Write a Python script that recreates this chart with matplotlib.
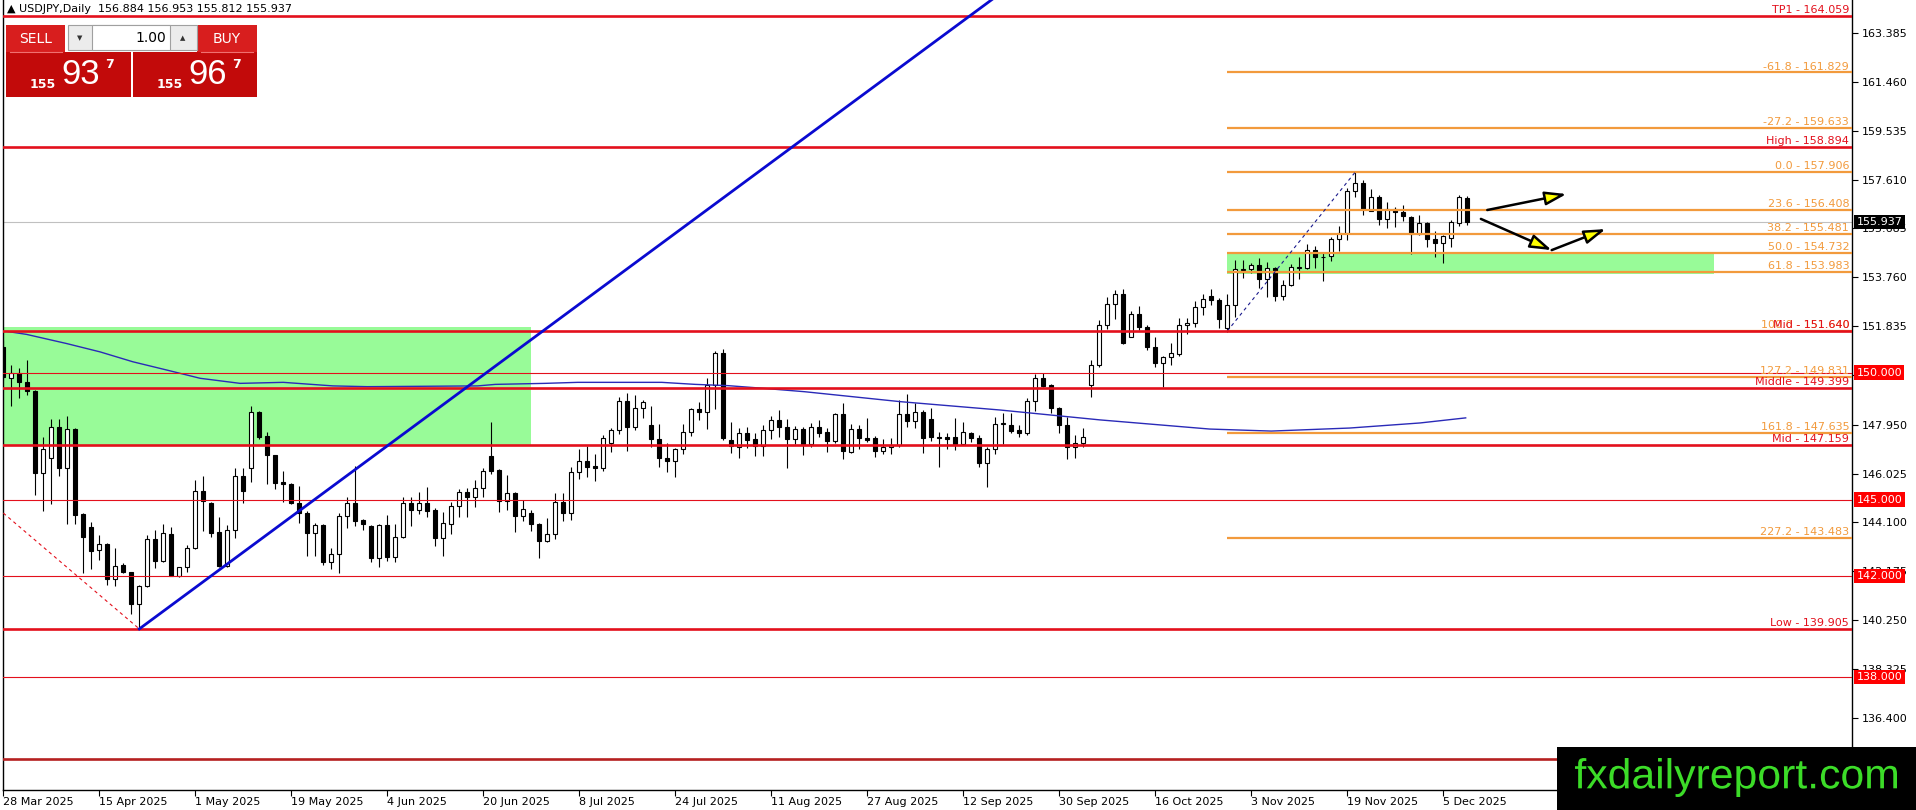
import matplotlib
matplotlib.use('Agg')
import matplotlib.pyplot as plt
from matplotlib.patches import Rectangle, PathPatch
from matplotlib import transforms
from matplotlib.textpath import TextPath
from matplotlib.font_manager import FontProperties

# USDJPY daily bars, bar 0 = 28 Mar 2025
opens = [151.03, 149.78, 149.99, 149.62, 149.29, 146.06, 146.63, 147.85, 146.26, 147.77,
         144.43, 143.91, 143.00, 143.24, 141.86, 142.42, 142.13, 140.87, 141.60, 143.44,
         142.60, 143.63, 142.00, 142.33, 143.08, 145.35, 144.88, 143.71, 142.40, 143.80,
         145.93, 146.23, 148.47, 147.51, 146.74, 145.68, 145.60, 144.85, 144.49, 143.67,
         143.99, 142.56, 142.85, 144.35, 144.85, 144.20, 143.96, 142.69, 143.99, 142.75,
         143.51, 144.88, 144.59, 144.85, 144.59, 143.47, 144.02, 144.75, 145.29, 145.12,
         145.44, 146.72, 146.17, 144.96, 145.25, 144.37, 144.46, 144.04, 143.38, 143.63,
         144.89, 144.46, 146.07, 146.53, 146.32, 146.23, 147.24, 147.74, 148.89, 147.87,
         148.60, 147.94, 147.38, 146.63, 146.52, 146.99, 147.68, 148.56, 148.47, 149.52,
         150.76, 147.35, 147.06, 147.61, 147.37, 147.11, 147.74, 148.14, 147.85, 147.38,
         147.77, 147.19, 147.87, 147.65, 147.32, 148.37, 146.89, 147.77, 147.41, 147.41,
         146.93, 147.06, 147.15, 148.36, 148.11, 148.46, 148.16, 147.48, 147.45, 147.45,
         147.19, 147.61, 147.41, 146.46, 146.98, 147.97, 147.94, 147.74, 147.64, 148.90,
         149.78, 149.52, 148.59, 147.94, 147.06, 147.24, 149.52, 150.30, 151.88, 152.69,
         153.09, 151.42, 152.30, 151.81, 151.03, 150.40, 150.63, 150.74, 151.89, 151.97,
         152.57, 153.04, 152.86, 151.75, 152.67, 154.05, 154.09, 154.24, 153.68, 154.11,
         153.04, 153.46, 154.11, 154.11, 154.83, 154.57, 154.61, 155.25, 155.49, 157.16,
         157.46, 156.38, 156.91, 156.04, 156.44, 156.35, 156.15, 155.47, 155.91, 155.27,
         155.10, 155.29, 155.91, 156.884]
highs = [151.29, 150.30, 150.17, 150.50, 149.30, 147.48, 148.18, 148.18, 148.29, 147.81,
         144.46, 144.13, 143.60, 143.28, 143.11, 142.50, 142.16, 141.64, 143.60, 143.80,
         144.04, 143.91, 142.36, 143.21, 145.77, 145.93, 144.92, 144.30, 144.00, 146.23,
         146.23, 148.69, 148.49, 147.68, 146.76, 146.11, 145.64, 145.54, 144.56, 144.09,
         144.04, 143.08, 144.46, 145.09, 146.32, 144.25, 144.00, 144.04, 144.39, 144.04,
         145.09, 145.09, 145.29, 145.51, 144.65, 144.50, 144.89, 145.41, 145.44, 145.77,
         146.26, 148.07, 146.19, 145.97, 145.30, 144.98, 144.59, 144.06, 144.26, 145.25,
         145.25, 146.27, 146.99, 147.11, 146.80, 147.55, 147.83, 149.06, 149.19, 149.12,
         148.92, 148.69, 147.97, 147.22, 147.02, 147.98, 148.60, 148.86, 149.78, 150.86,
         150.92, 148.07, 147.83, 147.85, 147.61, 147.94, 148.30, 148.53, 148.16, 147.90,
         147.87, 148.03, 148.13, 147.81, 148.42, 148.79, 147.98, 147.94, 148.20, 147.51,
         147.38, 147.41, 148.93, 149.16, 148.82, 148.53, 148.60, 147.68, 147.64, 148.20,
         148.07, 147.68, 147.55, 147.09, 148.27, 148.40, 148.40, 147.94, 149.02, 149.95,
         149.97, 149.56, 148.66, 148.27, 147.55, 147.81, 150.50, 152.08, 153.00, 153.26,
         153.29, 152.44, 152.63, 151.88, 151.42, 150.66, 151.16, 152.14, 152.14, 152.82,
         153.09, 153.28, 152.95, 153.10, 154.44, 154.44, 154.33, 154.51, 154.37, 154.18,
         153.65, 154.28, 154.55, 155.06, 155.00, 154.70, 155.33, 155.78, 157.26, 157.90,
         157.59, 157.22, 157.00, 156.74, 156.52, 156.61, 156.18, 156.21, 155.93, 155.60,
         155.42, 156.02, 157.00, 156.953]
lows = [149.71, 148.69, 148.99, 149.12, 145.20, 144.56, 144.83, 145.94, 144.03, 144.04,
        142.10, 142.25, 142.62, 141.64, 141.61, 142.12, 140.48, 139.92, 141.57, 142.29,
        142.56, 141.98, 141.97, 142.16, 143.05, 143.76, 143.51, 142.36, 142.36, 143.47,
        144.85, 145.71, 147.37, 145.60, 145.42, 144.92, 144.83, 144.09, 142.78, 142.78,
        142.42, 142.25, 142.12, 143.87, 143.96, 143.80, 142.56, 142.36, 142.60, 142.56,
        143.47, 143.96, 144.43, 144.33, 143.17, 142.78, 143.65, 144.30, 144.33, 144.72,
        145.12, 146.00, 144.53, 144.59, 143.74, 144.17, 143.78, 142.69, 143.32, 143.43,
        144.17, 144.20, 145.81, 145.90, 145.75, 146.14, 146.86, 147.58, 146.93, 147.74,
        148.20, 147.09, 146.30, 146.10, 145.88, 146.80, 147.51, 148.14, 147.77, 148.56,
        147.35, 146.85, 146.63, 147.02, 146.72, 146.73, 147.39, 147.45, 146.23, 147.19,
        146.76, 147.09, 147.48, 146.89, 147.24, 146.59, 146.82, 146.98, 147.28, 146.67,
        146.80, 146.80, 147.06, 147.87, 147.81, 146.82, 147.32, 146.30, 146.98, 146.95,
        147.15, 147.28, 146.27, 145.48, 146.80, 147.19, 147.64, 147.48, 147.55, 148.50,
        149.42, 148.40, 147.64, 146.59, 146.63, 147.09, 149.05, 150.24, 151.72, 152.10,
        151.13, 151.39, 151.68, 150.90, 150.21, 149.45, 150.30, 150.67, 151.52, 151.81,
        152.27, 152.67, 151.77, 151.62, 152.21, 153.72, 153.94, 153.32, 152.99, 152.84,
        152.86, 153.40, 153.68, 154.07, 154.14, 153.63, 154.41, 154.81, 155.23, 156.91,
        156.21, 156.37, 155.82, 155.69, 155.75, 155.99, 154.68, 155.43, 154.97, 154.55,
        154.34, 154.94, 155.78, 155.812]
closes = [149.84, 149.98, 149.62, 149.29, 146.06, 146.98, 147.85, 146.26, 147.77, 144.39,
          143.52, 142.99, 143.24, 141.86, 142.40, 142.16, 140.87, 141.60, 143.44, 142.60,
          143.67, 142.00, 142.33, 143.08, 145.35, 144.96, 143.67, 142.40, 143.80, 145.93,
          145.35, 148.47, 147.48, 146.74, 145.67, 145.60, 144.85, 144.49, 143.67, 143.99,
          142.56, 142.85, 144.35, 144.85, 144.17, 144.03, 142.69, 143.99, 142.75, 143.52,
          144.88, 144.59, 144.85, 144.56, 143.47, 144.09, 144.75, 145.29, 145.12, 145.44,
          146.13, 146.13, 144.96, 145.25, 144.37, 144.62, 144.02, 143.38, 143.63, 144.89,
          144.49, 146.07, 146.53, 146.30, 146.23, 147.41, 147.74, 148.89, 147.87, 148.60,
          148.86, 147.38, 146.63, 146.52, 146.99, 147.65, 148.56, 148.47, 149.52, 150.76,
          147.41, 147.11, 147.61, 147.35, 147.11, 147.74, 148.14, 147.85, 147.38, 147.77,
          147.19, 147.87, 147.64, 147.32, 148.37, 146.93, 147.77, 147.41, 147.35, 146.93,
          147.06, 147.15, 148.36, 148.11, 148.46, 147.41, 147.48, 147.41, 147.40, 147.19,
          147.65, 147.41, 146.46, 146.98, 147.97, 148.00, 147.71, 147.64, 148.90, 149.78,
          149.48, 148.59, 147.94, 147.06, 147.24, 147.48, 150.30, 151.88, 152.69, 153.09,
          151.18, 152.30, 151.79, 151.00, 150.40, 150.63, 150.76, 151.88, 151.97, 152.57,
          152.89, 152.86, 152.10, 152.67, 154.07, 154.07, 154.24, 153.68, 154.11, 153.04,
          153.46, 154.15, 154.18, 154.83, 154.54, 154.54, 155.25, 155.49, 157.16, 157.46,
          156.44, 156.91, 156.04, 156.44, 156.35, 156.17, 155.47, 155.91, 155.26, 155.10,
          155.39, 155.95, 156.91, 155.937]

date_labels = ['28 Mar 2025', '15 Apr 2025', '1 May 2025', '19 May 2025', '4 Jun 2025',
               '20 Jun 2025', '8 Jul 2025', '24 Jul 2025', '11 Aug 2025', '27 Aug 2025',
               '12 Sep 2025', '30 Sep 2025', '16 Oct 2025', '3 Nov 2025', '19 Nov 2025',
               '5 Dec 2025']
bars_per_label = 12

price_ticks = [163.385, 161.460, 159.535, 157.610, 155.685, 153.760, 151.835, 149.910,
               147.950, 146.025, 144.100, 142.175, 140.250, 138.325, 136.400]

# horizontal levels (red)
level_prices = [164.059, 158.894, 151.640, 150.000, 149.399, 147.159, 145.000, 142.000,
                139.905, 138.000, 134.760]
level_names = ['TP1', 'High', 'Mid', '', 'Middle', 'Mid', '', '', 'Low', '', '']
level_thick = [True, True, True, False, True, True, False, False, True, False, True]
level_boxed = [150.000, 145.000, 142.000, 138.000]

# fibonacci from the Oct low to the Nov high
fib_pct = ['-61.8', '-27.2', '0.0', '23.6', '38.2', '50.0', '61.8', '100.0', '127.2', '161.8', '227.2']
fib_price = [161.829, 159.633, 157.906, 156.408, 155.481, 154.732, 153.983, 151.640, 149.831,
             147.635, 143.483]
fib_start = 153
fib_swing_bars = [153, 169]
fib_swing_prices = [151.640, 157.906]

# moving average
ma_bars = [0.6, 2.9, 7.9, 12.1, 16.2, 20.5, 24.6, 29.6, 35.0, 41.2, 45.5, 59.3, 61.5, 67.7,
           71.8, 82.3, 86.5, 90.6, 94.8, 100.2, 112.1, 124.6, 137.1, 150.8, 158.5, 168.3,
           177.1, 182.8]
ma_vals = [151.62, 151.51, 151.15, 150.82, 150.43, 150.10, 149.78, 149.58, 149.62, 149.48,
           149.45, 149.48, 149.54, 149.58, 149.62, 149.62, 149.54, 149.49, 149.39, 149.25,
           148.86, 148.53, 148.14, 147.78, 147.70, 147.82, 148.02, 148.22]

# drawn objects
trend_bars = [17, 124]
trend_prices = [139.905, 164.80]
red_dash_bars = [0, 17]
red_dash_prices = [144.47, 139.905]
zones = [(-1, 66, 147.159, 151.79), (153, 213.8, 153.90, 154.73)]
arrows = [((185.5, 156.41), (195.4, 157.04)),
          ((184.7, 156.06), (193.55, 154.83)),
          ((193.55, 154.83), (200.3, 155.66))]
spread = 0.030

RED = '#e3101c'
ORANGE = '#f29a3c'

W, H = 1916, 810
fig = plt.figure(figsize=(W / 100, H / 100), dpi=100)
ax = fig.add_axes([2.7 / W, 20 / H, (1852 - 2.7) / W, 790 / H])
ax.set_xlim(-0.075, 231.09)
ax.set_ylim(133.558, 164.685)

idx = list(range(len(closes)))

# zones
for x0, x1, p0, p1 in zones:
    ax.add_patch(Rectangle((x0, p0), x1 - x0, p1 - p0, fc='#98fb98', ec='none', zorder=0.5))

# moving average
ax.plot(ma_bars, ma_vals, color='#2a2ab8', lw=1, zorder=3.5)

# candles
ax.vlines(idx, lows, highs, color='black', lw=0.8, zorder=3)
body_lo = [min(o, c) for o, c in zip(opens, closes)]
body_h = [abs(c - o) for o, c in zip(opens, closes)]
body_col = ['white' if c >= o else 'black' for o, c in zip(opens, closes)]
ax.bar(idx, body_h, bottom=body_lo, width=0.55, color=body_col, edgecolor='black',
       linewidth=0.8, zorder=3.2)

# current price line
ax.axhline(closes[-1], color='#c0c0c0', lw=0.8, zorder=2)

# fib lines
for pct, pr in zip(fib_pct, fib_price):
    ax.hlines(pr, fib_start, 231.09, color=ORANGE, lw=1.6, zorder=4)
ax.plot(fib_swing_bars, fib_swing_prices, color='#1a1a8c', lw=0.8, ls=(0, (3, 3)), zorder=4)

# red levels
for pr, thick in zip(level_prices, level_thick):
    col = '#b52020' if pr < 136 else RED
    ax.axhline(pr, color=col, lw=1.9 if thick else 0.8, zorder=4.2)

# trend lines
ax.plot(trend_bars, trend_prices, color='#0a0ad0', lw=2, zorder=4.5)
ax.plot(red_dash_bars, red_dash_prices, color=RED, lw=0.8, ls=(0, (3, 3)), zorder=4)

# arrows
for (x0, y0), (x1, y1) in arrows:
    ax.annotate('', xy=(x1, y1), xytext=(x0, y0), zorder=5,
                arrowprops=dict(arrowstyle='-|>,head_length=1.0,head_width=0.32',
                                fc='#ffff00', ec='black', lw=1.8, mutation_scale=13,
                                shrinkA=0, shrinkB=0))

# level labels on the right
lab = transforms.blended_transform_factory(ax.transAxes, ax.transData)
for pct, pr in zip(fib_pct, fib_price):
    ax.text(0.9985, pr + 0.03, f'{pct} - {pr:.3f}', transform=lab, ha='right', va='bottom',
            fontsize=8, color=ORANGE, zorder=6)
for name, pr in zip(level_names, level_prices):
    if name:
        ax.text(0.9985, pr + 0.03, f'{name} - {pr:.3f}', transform=lab, ha='right',
                va='bottom', fontsize=8, color=RED, zorder=6)

# axis styling
ax.spines['top'].set_visible(False)
for s in ['left', 'right', 'bottom']:
    ax.spines[s].set_linewidth(1)
ax.yaxis.tick_right()
ax.set_yticks(price_ticks)
# the 149.910 label sits under the 150.000 box
ax.set_yticklabels(['' if p in (149.910,) else f'{p:.3f}' for p in price_ticks])
ax.tick_params(axis='y', direction='out', length=4, labelsize=8, pad=3)
ax.set_xticks([k * bars_per_label for k in range(len(date_labels))])
ax.set_xticklabels(date_labels)
ax.tick_params(axis='x', direction='out', length=4, labelsize=8, pad=1)
plt.setp(ax.get_xticklabels(), ha='left')

# boxed prices on the axis
for pr in level_boxed:
    ax.text(1.0025, pr, f'{pr:.3f}', transform=lab, ha='left', va='center', fontsize=8,
            color='white', zorder=7, clip_on=False,
            bbox=dict(boxstyle='square,pad=0.2', fc='#ff0000', ec='none'))
ax.text(1.0025, closes[-1], f'{closes[-1]:.3f}', transform=lab, ha='left', va='center',
        fontsize=8, color='white', zorder=7, clip_on=False,
        bbox=dict(boxstyle='square,pad=0.2', fc='black', ec='none'))


def px(x, y):
    return x / W, 1 - y / H


def box(x, y, w, h, fc, ec='none'):
    fig.add_artist(Rectangle(px(x, y + h), w / W, h / H, transform=fig.transFigure,
                             fc=fc, ec=ec, lw=0.8, zorder=20))


# header
fig.text(*px(7, 9), f'\u25b2 USDJPY,Daily  {opens[-1]:.3f} {highs[-1]:.3f} {lows[-1]:.3f} {closes[-1]:.3f}',
         fontsize=8, va='center', ha='left', zorder=21)

# trade panel
box(6, 25, 59, 27, '#d81e1e')
box(197, 25, 60, 27, '#d81e1e')
box(6, 52, 125, 45, '#c20a0a')
box(133, 52, 124, 45, '#c20a0a')
box(68, 25, 129, 25, '#ececec', '#a0a0a0')
box(92, 25, 78, 25, 'white', '#a0a0a0')
fig.add_artist(plt.Line2D([10 / W, 62 / W], [1 - 52 / H] * 2, color='#f07070', lw=0.8,
                          transform=fig.transFigure, zorder=21))
fig.add_artist(plt.Line2D([201 / W, 253 / W], [1 - 52 / H] * 2, color='#f07070', lw=0.8,
                          transform=fig.transFigure, zorder=21))
fig.text(*px(36, 39), 'SELL', color='white', fontsize=10, ha='center', va='center', zorder=22)
fig.text(*px(227, 39), 'BUY', color='white', fontsize=10, ha='center', va='center', zorder=22)
fig.text(*px(166, 38), '1.00', color='black', fontsize=10, ha='right', va='center', zorder=22)
fig.text(*px(80, 38), '\u25bc', color='#333333', fontsize=5, ha='center', va='center', zorder=22)
fig.text(*px(183, 38), '\u25b2', color='#333333', fontsize=5, ha='center', va='center', zorder=22)

bid = f'{closes[-1]:.3f}'
ask = f'{closes[-1] + spread:.3f}'
for s, x0 in [(bid, 30), (ask, 157)]:
    fig.text(*px(x0, 84), s[:3], color='white', fontsize=9, fontweight='bold',
             ha='left', va='center', zorder=22)
    fig.text(*px(x0 + 31, 75), s[4:6], color='white', fontsize=25, ha='left', va='center',
             zorder=22, family='Liberation Sans')
    fig.text(*px(x0 + 75, 64), s[6], color='white', fontsize=9, fontweight='bold',
             ha='left', va='center', zorder=22)

# watermark: narrow text, stretched to fit its black box
box(1557, 747, 359, 63, 'black')
tp = TextPath((0, 0), 'fxdailyreport.com', size=40, prop=FontProperties(family='Liberation Sans'))
ext = tp.get_extents()
wm_x0, wm_x1, wm_top, wm_bot = 1575, 1897, 758, 797
wm_tr = (transforms.Affine2D().translate(-ext.x0, -ext.y0)
         .scale((wm_x1 - wm_x0) / ext.width, (wm_bot - wm_top) / ext.height)
         .translate(wm_x0, H - wm_bot))
fig.add_artist(PathPatch(tp, transform=wm_tr, fc='#3cdc28', ec='none', zorder=22))

fig.savefig('out.png', dpi=100, facecolor='white')
